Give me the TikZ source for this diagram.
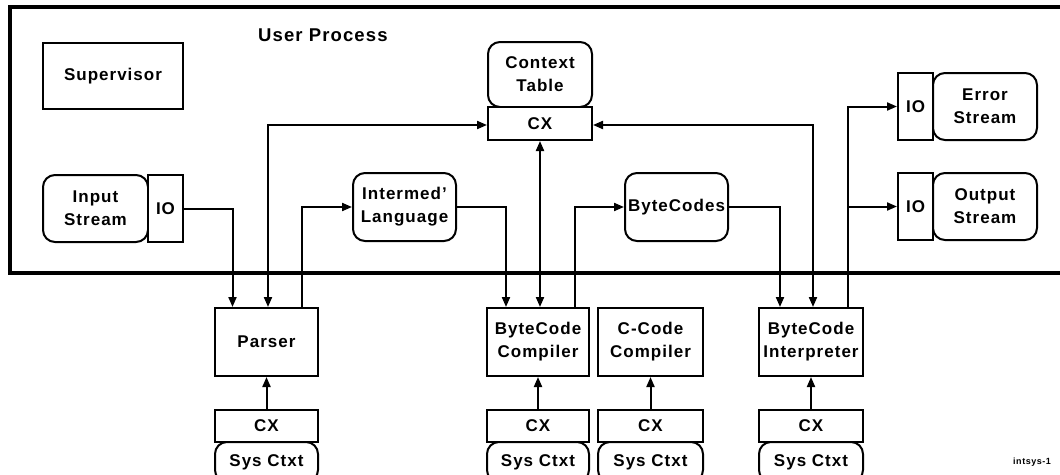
\documentclass[tikz,border=0pt]{standalone}
\usepackage{fontspec}
\setmainfont[LetterSpace=6]{Liberation Sans}
\usetikzlibrary{arrows.meta,calc}
\begin{document}
\begin{tikzpicture}[x=1pt,y=-1pt,
  box/.style={draw, fill=white, line width=2pt, inner sep=0pt, align=center,
    font=\bfseries\fontsize{17}{23}\selectfont},
  rbox/.style={box, rounded corners=12pt},
  conn/.style={line width=2pt},
  arr/.style={conn, -{Triangle[length=10pt,width=8pt]}},
  barr/.style={conn, {Triangle[length=10pt,width=8pt]}-{Triangle[length=10pt,width=8pt]}}]
\clip (0,0) rectangle (1060,474);
% outer user process frame
\draw[line width=3.5pt] (1080,273) -- (10,273) -- (10,7) -- (1080,7);
\node[anchor=west, inner sep=0pt, font=\bfseries\fontsize{18.5}{22}\selectfont] (up) at (258,35) {User Process};
% top nodes
\node[box, minimum width=140, minimum height=66] (sup) at (113,76) {Supervisor};
\node[rbox, minimum width=105, minimum height=67] (ins) at (95.5,208.5) {Input\\Stream};
\node[box, minimum width=35, minimum height=67] (insio) at (165.5,208.5) {IO};
\node[rbox, minimum width=104, minimum height=65] (ctx) at (540,74.5) {Context\\Table};
\node[box, minimum width=104, minimum height=33] (ctxcx) at (540,123.5) {CX};
\node[rbox, minimum width=103, minimum height=68] (il) at (404.5,207) {Intermed'\\Language};
\node[rbox, minimum width=103, minimum height=68] (bcodes) at (676.5,207) {ByteCodes};
\node[box, minimum width=35, minimum height=67] (errio) at (915.5,106.5) {IO};
\node[rbox, minimum width=104, minimum height=67] (err) at (985,106.5) {Error\\Stream};
\node[box, minimum width=35, minimum height=67] (outio) at (915.5,206.5) {IO};
\node[rbox, minimum width=104, minimum height=67] (out) at (985,206.5) {Output\\Stream};
% bottom nodes
\node[box, minimum width=103, minimum height=68] (parser) at (266.5,342) {Parser};
\node[box, minimum width=103, minimum height=32] (pcx) at (266.5,426) {CX};
\node[rbox, minimum width=103, minimum height=40] (psys) at (266.5,462) {Sys Ctxt};
\node[box, minimum width=102, minimum height=68] (bcc) at (538,342) {ByteCode\\Compiler};
\node[box, minimum width=102, minimum height=32] (bcccx) at (538,426) {CX};
\node[rbox, minimum width=102, minimum height=40] (bccsys) at (538,462) {Sys Ctxt};
\node[box, minimum width=105, minimum height=68] (ccc) at (650.5,342) {C-Code\\Compiler};
\node[box, minimum width=105, minimum height=32] (ccccx) at (650.5,426) {CX};
\node[rbox, minimum width=105, minimum height=40] (cccsys) at (650.5,462) {Sys Ctxt};
\node[box, minimum width=104, minimum height=68] (bci) at (811,342) {ByteCode\\Interpreter};
\node[box, minimum width=104, minimum height=32] (bcicx) at (811,426) {CX};
\node[rbox, minimum width=104, minimum height=40] (bcisys) at (811,462) {Sys Ctxt};
\node[anchor=west, inner sep=0pt, font=\bfseries\fontsize{9}{11}\selectfont] (tag) at (1013,462) {intsys-1};
% connectors
\draw[arr] (insio.east) -| ([xshift=-34pt]parser.north);
\draw[barr] ([yshift=-1.5pt]ctxcx.west) -| ([xshift=1.5pt]parser.north);
\draw[arr] ([xshift=35.5pt]parser.north) |- (il.west);
\draw[arr] (il.east) -| ([xshift=-32pt]bcc.north);
\draw[barr] (ctxcx.south) -- (ctxcx.south |- bcc.north);
\draw[arr] ([xshift=37pt]bcc.north) |- (bcodes.west);
\draw[arr] (bcodes.east) -| ([xshift=-31pt]bci.north);
\draw[barr] ([yshift=-1.5pt]ctxcx.east) -| ([xshift=2pt]bci.north);
\coordinate (split) at ([xshift=37pt]bci.north |- outio.west);
\draw[arr] ([xshift=37pt]bci.north) |- (errio.west);
\draw[arr] (split) -- (outio.west);
\draw[arr] (pcx.north) -- (parser.south);
\draw[arr] (bcccx.north) -- (bcc.south);
\draw[arr] (ccccx.north) -- (ccc.south);
\draw[arr] (bcicx.north) -- (bci.south);
\end{tikzpicture}
\end{document}
